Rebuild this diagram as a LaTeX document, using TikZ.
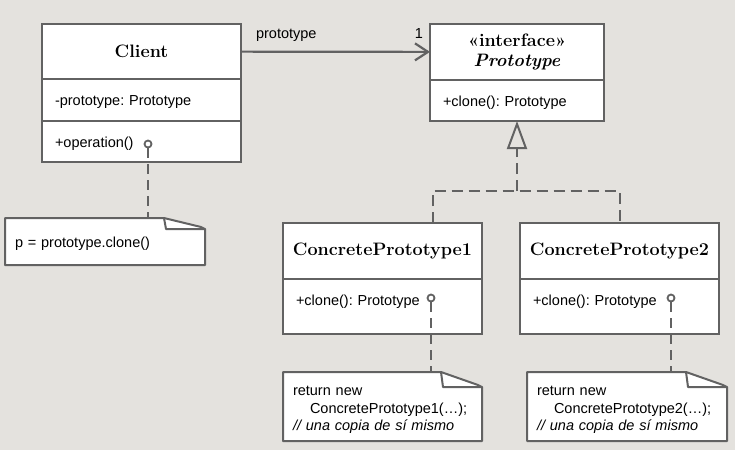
\documentclass[tikz,border=0pt]{standalone}
\usepackage{fontspec}
\setsansfont{Liberation Sans}
\usepackage{tikz}
\usetikzlibrary{arrows.meta, positioning}

\definecolor{paper}{RGB}{228,226,222}
\definecolor{umlline}{RGB}{98,98,98}
\frenchspacing

\begin{document}
\begin{tikzpicture}[
x=1pt, y=-1pt,
classname/.style={draw=umlline, fill=white, line width=2pt, outer sep=0pt, minimum height=56pt, align=center, font=\bfseries\fontsize{18}{20.5}\selectfont},
member/.style={draw=umlline, fill=white, line width=2pt, outer sep=0pt, inner xsep=13pt, inner ysep=0pt, text height=26pt, align=left, font=\sffamily\fontsize{14.5}{17.5}\selectfont},
notebox/.style={fill=white, outer sep=0pt, inner xsep=10pt, align=left, font=\sffamily\fontsize{14.5}{17.5}\selectfont},
notefold/.style={draw=umlline, line width=2pt, line join=round},
knob/.style={circle, draw=umlline, fill=white, inner sep=0pt, minimum size=7pt, line width=1.8pt},
assoc/.style={draw=umlline, line width=2.2pt, -{Straight Barb[length=13pt, width=17pt]}},
realization/.style={draw=umlline, line width=2pt, dash pattern=on 11pt off 6pt},
noteline/.style={draw=umlline, line width=2pt, dash pattern=on 10pt off 6pt},
tag/.style={inner sep=0pt, font=\sffamily\fontsize{14.5}{17.5}\selectfont}
]
\useasboundingbox[fill=paper] (0,0) rectangle (735,450);

% Client
\node[classname, minimum width=199pt, minimum height=55pt, anchor=north west] (clienttitle) at (42,24) {Client};
\node[member, text width=173pt, text depth=16pt, below=0pt of clienttitle] (clientattr) {-prototype: Prototype};
\node[member, text width=173pt, text depth=15pt, below=0pt of clientattr] (clientops) {+operation()};

% interface
\node[classname, minimum width=174pt, anchor=north west] (prototitle) at (430,24)
{«interface»\\\textit{Prototype}};
\node[member, text width=148pt, text depth=15pt, below=0pt of prototitle] (protoops) {+clone(): Prototype};

% concrete classes
\node[classname, minimum width=199pt, anchor=north west] (cp1title) at (283,223) {ConcretePrototype1};
\node[member, text width=173pt, text depth=29pt, below=0pt of cp1title] (cp1ops) {+clone(): Prototype};
\node[classname, minimum width=199pt, right=38pt of cp1title] (cp2title) {ConcretePrototype2};
\node[member, text width=173pt, text depth=29pt, below=0pt of cp2title] (cp2ops) {+clone(): Prototype};

% notes
\node[notebox, minimum width=200pt, minimum height=47pt, text width=180pt, anchor=north west] (clientnote) at (5,218)
{\rule{0pt}{14pt}p = prototype.clone()};
\node[notebox, minimum width=199pt, minimum height=69pt, text width=179pt, below=38pt of cp1ops.south west, anchor=north west] (cp1note)
{\rule{0pt}{16pt}return new\\\hspace*{17pt}ConcretePrototype1(…);\\\textit{// una copia de sí mismo}};
\node[notebox, minimum width=200pt, minimum height=69pt, text width=180pt, below=38pt of cp2ops.south west, anchor=north west, xshift=7pt] (cp2note)
{\rule{0pt}{16pt}return new\\\hspace*{17pt}ConcretePrototype2(…);\\\textit{// una copia de sí mismo}};

\foreach \n/\f in {clientnote/11pt, cp1note/15pt, cp2note/15pt}
{
  \fill[paper] ([xshift=-41pt]\n.north east) -- ([xshift=-4pt, yshift=-\f+2pt]\n.north east)
    -- ([yshift=-\f]\n.north east) -- (\n.north east) -- cycle;
  \draw[notefold] (\n.south west) -- (\n.north west) -- ([xshift=-41pt]\n.north east)
    -- ([xshift=-4pt, yshift=-\f+2pt]\n.north east) -- ([yshift=-\f]\n.north east)
    -- (\n.south east) -- cycle;
  \draw[notefold] ([xshift=-41pt]\n.north east) -- ([xshift=-39pt, yshift=-\f]\n.north east)
    -- ([yshift=-\f]\n.north east);
}

% knobs and note links
\node[knob] (clientknob) at (148,144) {};
\node[knob] (cp1knob) at (431,298) {};
\node[knob] (cp2knob) at (671,298) {};
\draw[noteline] (clientknob) -- (clientknob |- clientnote.north);
\draw[noteline] (cp1knob) -- (cp1knob |- cp1note.north);
\draw[noteline] (cp2knob) -- (cp2knob |- cp2note.north);

% association
\draw[assoc] (clienttitle) -- (prototitle)
  node[tag, pos=0, anchor=south west, xshift=14pt, yshift=9pt] (rolename) {prototype}
  node[tag, pos=1, anchor=south east, xshift=-6pt, yshift=12pt] (mult) {1};

% realization
\coordinate (fork) at ([yshift=-70pt]protoops.south);
\draw[realization] ([xshift=50pt]cp1title.north) |- (fork) -| (cp2title.north);
\draw[realization, -{Triangle[open, length=28pt, width=20pt]}] (fork) -- (protoops.south);

\end{tikzpicture}
\end{document}
